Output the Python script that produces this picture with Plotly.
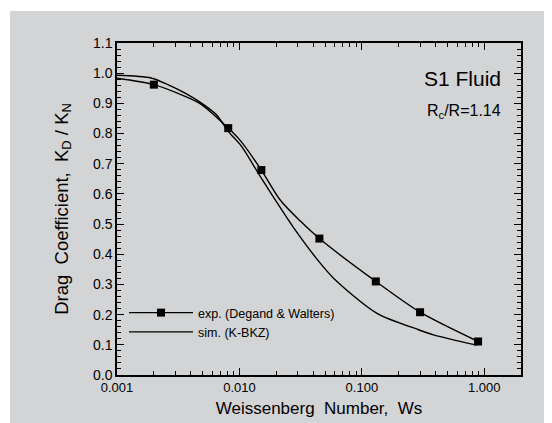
import plotly.graph_objects as go

# experimental points (Degand & Walters)
exp_x = [0.002, 0.0081, 0.0151, 0.045, 0.130, 0.299, 0.89]
exp_y = [0.962, 0.818, 0.679, 0.452, 0.310, 0.208, 0.111]

exp_line_x = [0.001, 0.002, 0.0036, 0.0049, 0.0081, 0.0103, 0.0151, 0.0217, 0.0316, 0.045, 0.130, 0.299, 0.89]
exp_line_y = [0.983, 0.962, 0.923, 0.896, 0.818, 0.774, 0.679, 0.578, 0.509, 0.452, 0.310, 0.208, 0.111]

# simulation curve (K-BKZ)
sim_x = [0.001, 0.0019, 0.0026, 0.0036, 0.0049, 0.0065, 0.0081, 0.0103, 0.0151, 0.0217, 0.0292, 0.045, 0.059, 0.133, 0.29, 0.384, 0.87]
sim_y = [0.993, 0.984, 0.962, 0.934, 0.901, 0.862, 0.807, 0.760, 0.652, 0.553, 0.475, 0.374, 0.320, 0.204, 0.150, 0.133, 0.099]

x_tickvals = [0.001, 0.01, 0.1, 1]
x_ticktext = ["0.001", "0.010", "0.100", "1.000"]
x_minor = [m * 10 ** e for e in (-3, -2, -1, 0) for m in range(2, 10) if m * 10 ** e <= 2]

FONT = "Liberation Sans, Arial, sans-serif"
GRAY = "#d3d4d5"

# page body has an 8px margin: figure origin lands at screen (8, 8)
OFF = 8
# plot-area geometry in screen px
SL, ST, SR, SB = 117, 43, 521, 375
PW, PH = SR - SL, SB - ST
L, T = SL - OFF, ST - OFF
W, H = 552, 423
R, B = W - L - PW, H - T - PH

def px(x):  # screen x -> paper
    return (x - SL) / PW

def py(y):  # screen y -> paper
    return (SB - y) / PH

fig = go.Figure()
fig.add_trace(go.Scatter(x=exp_line_x, y=exp_line_y, mode="lines",
                         line=dict(color="black", width=1.4, shape="spline", smoothing=0.8),
                         showlegend=False, hoverinfo="skip", legendgroup="exp"))
fig.add_trace(go.Scatter(x=exp_x, y=exp_y, mode="markers", showlegend=False, legendgroup="exp",
                         marker=dict(symbol="square", size=8, color="black")))
fig.add_trace(go.Scatter(x=[None], y=[None], mode="lines+markers", name="exp. (Degand &amp; Walters)",
                         legendgroup="exp",
                         line=dict(color="black", width=1.4),
                         marker=dict(symbol="square", size=8, color="black")))
fig.add_trace(go.Scatter(x=sim_x, y=sim_y, mode="lines", name="sim. (K-BKZ)",
                         line=dict(color="black", width=1.4, shape="spline", smoothing=0.8)))

fig.update_layout(
    width=W, height=H,
    margin=dict(l=L, r=R, t=T, b=B),
    paper_bgcolor="white",
    plot_bgcolor=GRAY,
    font=dict(family=FONT, color="black", size=13),
    shapes=[dict(type="rect", xref="paper", yref="paper", layer="below",
                 x0=px(10), x1=px(560), y0=py(440), y1=py(11),
                 line=dict(width=0), fillcolor=GRAY)],
    legend=dict(x=px(124), y=py(298), xanchor="left", yanchor="top",
                bgcolor="rgba(0,0,0,0)", traceorder="normal",
                font=dict(size=12.5, family=FONT), itemwidth=64, tracegroupgap=0),
    annotations=[
        dict(text="S1 Fluid", x=px(503), y=py(78), xref="paper", yref="paper",
             showarrow=False, xanchor="right", yanchor="middle",
             font=dict(size=21, family=FONT)),
        dict(text="R<sub>c</sub>/R=1.14", x=px(503), y=py(111), xref="paper", yref="paper",
             showarrow=False, xanchor="right", yanchor="middle",
             font=dict(size=16, family=FONT)),
    ],
)

fig.update_xaxes(type="log", range=[-3, 0.3], tickvals=x_tickvals, ticktext=x_ticktext,
                 automargin=False,
                 ticks="inside", ticklen=7, tickwidth=1.2, tickcolor="black",
                 showline=True, linecolor="black", linewidth=1.5, mirror="ticks",
                 showgrid=False, zeroline=False,
                 minor=dict(tickvals=x_minor, ticks="inside", ticklen=4, tickcolor="black", showgrid=False),
                 title=dict(text="Weissenberg  Number,  Ws", font=dict(size=17, family=FONT), standoff=8),
                 tickfont=dict(size=13, family=FONT))
fig.update_yaxes(range=[0, 1.1], dtick=0.1, tick0=0, tickformat=".1f",
                 automargin=False,
                 ticks="inside", ticklen=7, tickwidth=1.2, tickcolor="black",
                 showline=True, linecolor="black", linewidth=1.5, mirror="ticks",
                 showgrid=False, zeroline=False,
                 minor=dict(dtick=0.02, ticks="inside", ticklen=4, tickcolor="black", showgrid=False),
                 title=dict(text="Drag  Coefficient,  K<sub>D</sub> / K<sub>N</sub>",
                            font=dict(size=18.5, family=FONT), standoff=20),
                 tickfont=dict(size=14, family=FONT))

fig.write_html("out.html")
